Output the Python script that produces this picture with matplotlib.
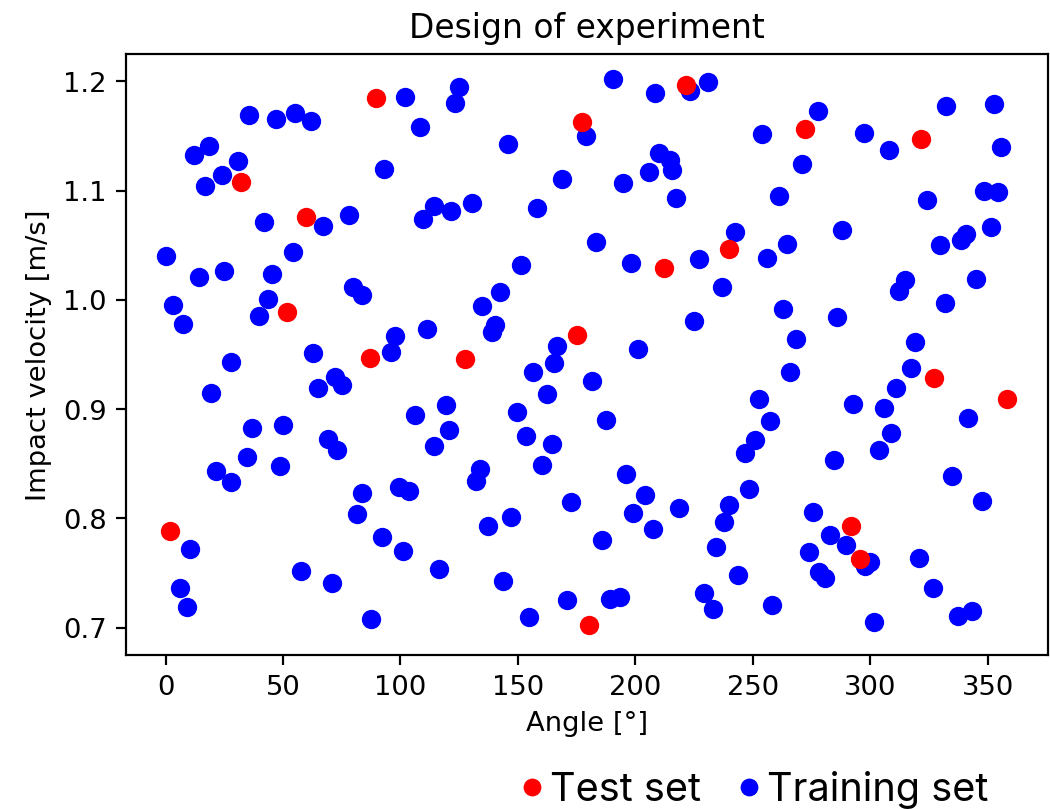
import matplotlib
matplotlib.use("Agg")
import matplotlib.pyplot as plt
from matplotlib.lines import Line2D

# test points (red)
test_angle = [89.5, 32.2, 59.7, 221.5, 177.3, 240.1, 272.1, 321.6, 51.9, 87.1,
              212.4, 175.1, 127.6, 327.0, 358.3, 1.9, 180.5, 292.0, 295.5]
test_velocity = [1.185, 1.108, 1.076, 1.197, 1.163, 1.047, 1.156, 1.147, 0.989, 0.947,
                 1.029, 0.968, 0.946, 0.928, 0.909, 0.788, 0.702, 0.793, 0.763]

# training points (blue)
train_angle = [102.0, 108.5, 35.6, 46.9, 55.2, 62.0, 18.7, 12.1, 31.0, 24.2,
               16.8, 93.2, 42.1, 67.2, 78.2, 114.1, 109.5, 125.1, 123.3, 190.5,
               208.5, 223.4, 230.8, 179.0, 145.7, 210.2, 214.9, 215.8, 206.0, 168.7,
               194.6, 217.4, 121.5, 130.4, 158.1, 183.2, 242.6, 278.0, 253.9, 270.9,
               261.0, 297.2, 308.1, 332.3, 352.6, 355.7, 348.3, 354.3, 324.2, 351.4,
               288.0, 340.9, 338.7, 329.6, 264.8, 0.2, 54.2, 14.3, 25.0, 45.2,
               79.7, 83.6, 43.8, 40.0, 3.3, 7.3, 111.2, 97.7, 95.9, 62.7,
               27.8, 72.2, 75.0, 65.1, 19.4, 106.3, 114.5, 36.7, 50.2, 69.1,
               73.2, 151.3, 198.1, 227.2, 236.9, 142.2, 134.9, 140.3, 138.9, 224.8,
               166.6, 165.5, 156.6, 201.1, 181.5, 162.6, 119.3, 120.7, 149.6, 187.6,
               153.4, 164.7, 256.0, 345.1, 314.7, 312.5, 332.0, 262.9, 286.1, 268.5,
               319.2, 266.0, 317.5, 311.1, 252.8, 292.9, 306.0, 341.5, 257.2, 250.8,
               308.9, 246.8, 303.9, 34.8, 48.8, 21.5, 27.9, 83.6, 99.2, 103.7,
               81.7, 10.4, 92.3, 100.9, 57.7, 70.8, 6.2, 9.0, 87.5, 133.9,
               132.1, 160.5, 196.0, 204.2, 199.2, 172.6, 218.8, 207.5, 147.1, 137.5,
               186.0, 240.1, 237.6, 234.5, 243.9, 116.6, 143.9, 171.1, 189.3, 193.6,
               154.9, 229.3, 232.9, 284.8, 248.5, 334.8, 347.6, 275.5, 283.0, 289.7,
               274.1, 300.0, 297.9, 278.3, 280.6, 320.9, 326.6, 258.4, 301.7, 337.4,
               343.4]
train_velocity = [1.186, 1.158, 1.169, 1.166, 1.171, 1.164, 1.141, 1.133, 1.127, 1.114,
                  1.104, 1.120, 1.071, 1.068, 1.078, 1.086, 1.074, 1.195, 1.180, 1.202,
                  1.189, 1.191, 1.199, 1.150, 1.143, 1.134, 1.128, 1.119, 1.117, 1.111,
                  1.107, 1.093, 1.081, 1.089, 1.084, 1.053, 1.062, 1.173, 1.152, 1.124,
                  1.095, 1.153, 1.137, 1.177, 1.179, 1.140, 1.100, 1.099, 1.091, 1.067,
                  1.064, 1.060, 1.055, 1.050, 1.051, 1.040, 1.044, 1.021, 1.026, 1.024,
                  1.012, 1.004, 1.001, 0.985, 0.995, 0.978, 0.973, 0.967, 0.952, 0.951,
                  0.943, 0.929, 0.922, 0.919, 0.915, 0.895, 0.866, 0.883, 0.885, 0.873,
                  0.863, 1.032, 1.034, 1.037, 1.012, 1.007, 0.994, 0.977, 0.971, 0.981,
                  0.958, 0.942, 0.934, 0.955, 0.926, 0.914, 0.904, 0.881, 0.897, 0.890,
                  0.875, 0.868, 1.038, 1.019, 1.018, 1.008, 0.997, 0.992, 0.984, 0.964,
                  0.961, 0.934, 0.938, 0.919, 0.909, 0.905, 0.901, 0.892, 0.889, 0.872,
                  0.878, 0.860, 0.863, 0.856, 0.848, 0.843, 0.833, 0.823, 0.829, 0.825,
                  0.804, 0.772, 0.783, 0.770, 0.752, 0.741, 0.736, 0.719, 0.708, 0.845,
                  0.834, 0.849, 0.841, 0.821, 0.805, 0.815, 0.809, 0.790, 0.801, 0.793,
                  0.780, 0.812, 0.797, 0.774, 0.748, 0.754, 0.743, 0.725, 0.726, 0.728,
                  0.710, 0.732, 0.717, 0.853, 0.827, 0.839, 0.816, 0.806, 0.785, 0.776,
                  0.769, 0.760, 0.756, 0.751, 0.745, 0.764, 0.736, 0.721, 0.705, 0.711,
                  0.715]

DPI = 197
fig = plt.figure(figsize=(1050.5 / DPI, 809.5 / DPI), dpi=DPI)
ax = fig.add_axes([0.12, 0.1904, 0.878, 0.7422])

ax.scatter(train_angle, train_velocity, s=50, c='blue', linewidths=0)
ax.scatter(test_angle, test_velocity, s=50, c='red', linewidths=0)

ax.set_xlim(-16.8, 375.9)
ax.set_ylim(0.675, 1.225)
ax.set_xticks([0, 50, 100, 150, 200, 250, 300, 350])
ax.set_yticks([0.7, 0.8, 0.9, 1.0, 1.1, 1.2])
ax.set_title('Design of experiment')
ax.set_xlabel('Angle [°]')
ax.set_ylabel('Impact velocity [m/s]')

# legend below the plot, slide style
handles = [Line2D([], [], marker='o', linestyle='', color='red', markersize=5.5),
           Line2D([], [], marker='o', linestyle='', color='blue', markersize=5.5)]
fig.legend(handles, ['Test set', 'Training set'], loc='center',
           bbox_to_anchor=(0.719, 0.024), ncol=2, frameon=False,
           prop={'family': 'Inter', 'size': 14.5}, handlelength=0.5,
           handletextpad=0.2, columnspacing=0.95, borderpad=0)

fig.savefig('out.png', dpi=DPI)
